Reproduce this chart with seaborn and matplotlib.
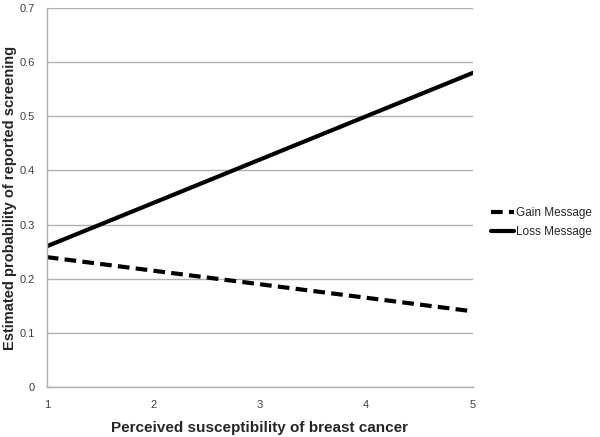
import matplotlib
matplotlib.use("Agg")
import matplotlib.pyplot as plt
import seaborn as sns
import pandas as pd

susceptibility = [1, 5]
gain = [0.24, 0.14]
loss = [0.26, 0.58]
y_ticks = [0, 0.1, 0.2, 0.3, 0.4, 0.5, 0.6, 0.7]
y_labels = ["0", "0.1", "0.2", "0.3", "0.4", "0.5", "0.6", "0.7"]
x_ticks = [1, 2, 3, 4, 5]

df = pd.DataFrame({
    "x": susceptibility * 2,
    "p": gain + loss,
    "msg": ["Gain Message"] * 2 + ["Loss Message"] * 2,
})

sns.set_style("white")
plt.rcParams["font.family"] = ["Liberation Sans", "DejaVu Sans"]

fig = plt.figure(figsize=(6, 4.37), dpi=100)
ax = fig.add_axes([0.078, 0.114, 0.71, 0.868])

sns.lineplot(data=df, x="x", y="p", hue="msg", style="msg",
             palette=["black", "black"], dashes={"Gain Message": (2.8, 1.5), "Loss Message": ""},
             linewidth=3, ax=ax, legend=True)

ax.set_xlim(1, 5)
ax.set_ylim(0, 0.7)
ax.set_yticks(y_ticks)
ax.set_yticklabels(y_labels)
ax.set_xticks(x_ticks)
ax.yaxis.grid(True, color="#b0b0b0", linewidth=1)
ax.set_axisbelow(True)
for s in ["top", "right"]:
    ax.spines[s].set_visible(False)
for s in ["left", "bottom"]:
    ax.spines[s].set_color("#b0b0b0")
    ax.spines[s].set_linewidth(1)
ax.tick_params(axis="both", length=0, labelsize=8, colors="#404040", pad=8.5)
ax.tick_params(axis="x", pad=9)

ax.set_xlabel("Perceived susceptibility of breast cancer", fontsize=11, fontweight="bold", labelpad=8)
ax.set_ylabel("Estimated probability of reported screening", fontsize=10.5, fontweight="bold")
ax.yaxis.set_label_coords(-0.071, 0.5)

leg = ax.legend(loc="center left", bbox_to_anchor=(1.017, 0.434), frameon=False,
                fontsize=8.5, handlelength=2, handletextpad=0.15, labelspacing=0.6)
for line in leg.get_lines():
    line.set_linewidth(3)

fig.savefig("out.png", dpi=100)
